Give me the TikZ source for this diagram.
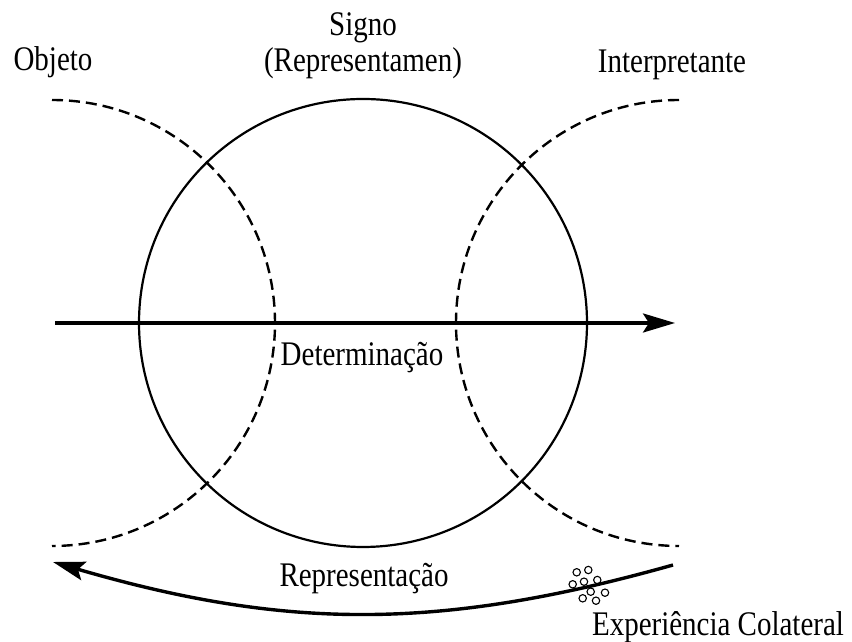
\documentclass[tikz,border=0pt]{standalone}
\usepackage{fontspec}
\setmainfont[FakeStretch=0.84]{Liberation Serif}
\usetikzlibrary{arrows.meta}
\begin{document}
\begin{tikzpicture}[x=1pt,y=1pt,
  lbl/.style={inner sep=0pt, anchor=base, font=\fontsize{34.5}{40}\selectfont},
  dsh/.style={line width=2.4pt, dash pattern=on 11pt off 6pt},
  solidc/.style={line width=2.2pt},
  arr/.style={line width=3.4pt, -{Stealth[length=32pt, width=19pt, inset=6pt]}},
  dot/.style={line width=1.1pt}]
\useasboundingbox (0,0) rectangle (852,642);
% main circle
\node[draw, solidc, circle, minimum size=448pt, inner sep=0pt] (signo) at (363,319) {};
% dashed arcs
\draw[dsh] (52,542) arc[start angle=90, end angle=-90, radius=223];
\draw[dsh] (679,542) arc[start angle=90, end angle=270, radius=223];
% determination arrow
\coordinate (dA) at (55,319);
\coordinate (dB) at (675,319);
\draw[arr] (dA) -- (dB);
% representation arrow
\coordinate (rA) at (673,77);
\coordinate (rB) at (53,80);
\draw[arr] (rA) to[bend left=16] (rB);
% labels
\node[lbl] (tsigno) at (363,606) {Signo};
\node[lbl] (trep) at (363,570) {(Representamen)};
\node[lbl] (tobj) at (53,571) {Objeto};
\node[lbl] (tint) at (672,569) {Interpretante};
\node[lbl] (tdet) at (362,276) {Determinação};
\node[lbl] (trepr) at (364,55) {Representação};
\node[lbl] (texp) at (718,6) {Experiência Colateral};
% small circles
\foreach \p in {(576.7,69.7),(588.3,72),(572.7,57.7),(584,60.3),(597.3,62),(590.7,50.3),(605,49.3),(582.7,43.7),(596,41.3)}
  \draw[dot] \p circle[radius=3.7];
\end{tikzpicture}
\end{document}
